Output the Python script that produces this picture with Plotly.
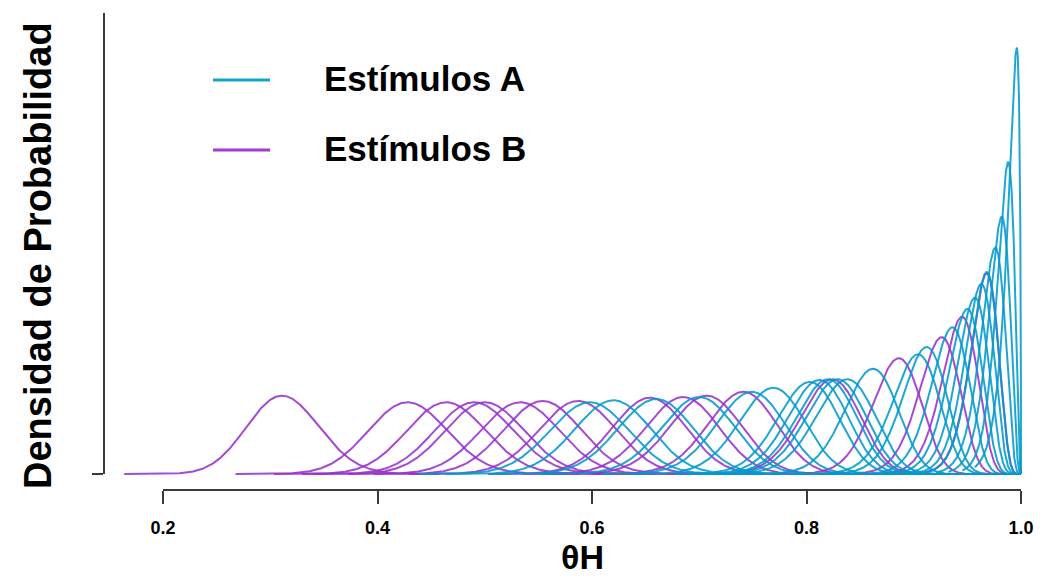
import math
import numpy as np
import plotly.graph_objects as go

# ---- data: mode (theta H) and peak density of each curve ----
modes_A = [0.598, 0.620, 0.660, 0.700, 0.749, 0.769, 0.803, 0.812, 0.820, 0.829, 0.838,
           0.862, 0.904, 0.912, 0.936, 0.950, 0.957, 0.963, 0.968, 0.976, 0.982, 0.988, 0.996]
peaks_A = [10.9, 11.2, 11.4, 11.7, 12.5, 13.1, 14.0, 14.3, 14.4, 14.4, 14.4,
           16.0, 18.2, 19.3, 22.3, 25.1, 26.8, 28.9, 30.7, 34.4, 39.1, 47.4, 64.8]

modes_B = [0.311, 0.428, 0.464, 0.490, 0.500, 0.533, 0.554, 0.587, 0.654, 0.685, 0.707,
           0.741, 0.824, 0.886, 0.926, 0.945, 0.968]
peaks_B = [11.9, 10.9, 10.9, 10.9, 10.9, 10.9, 11.1, 11.1, 11.6, 11.7, 11.9,
           12.5, 14.4, 17.6, 20.8, 23.9, 30.5]

x_ticks = [0.2, 0.4, 0.6, 0.8, 1.0]
x_tick_labels = ["0.2", "0.4", "0.6", "0.8", "1.0"]
series_names = ["Estímulos A", "Estímulos B"]
y_label = "Densidad de Probabilidad"
x_label = "θH"

COL_A = "rgba(0,154,205,0.88)"
COL_B = "rgba(153,50,204,0.88)"
AXIS_COL = "#3a3a3a"
FONT = "Liberation Sans, Arial, sans-serif"


def beta_params(m, h):
    """Beta(a, b) whose mode is m and whose density at the mode equals h."""
    def peak(k):
        a = 1 + m * (k - 2)
        b = 1 + (1 - m) * (k - 2)
        lnB = math.lgamma(a) + math.lgamma(b) - math.lgamma(a + b)
        return math.exp((a - 1) * math.log(m) + (b - 1) * math.log(1 - m) - lnB)
    lo, hi = 2.0001, 1e5
    for _ in range(200):
        mid = math.sqrt(lo * hi)
        if peak(mid) < h:
            lo = mid
        else:
            hi = mid
    k = math.sqrt(lo * hi)
    return 1 + m * (k - 2), 1 + (1 - m) * (k - 2)


def curve(m, h):
    a, b = beta_params(m, h)
    sd = math.sqrt(a * b / ((a + b) ** 2 * (a + b + 1)))
    x0 = max(1e-6, m - 4.4 * sd)
    x1 = min(1 - 1e-9, m + 4.4 * sd)
    x = np.linspace(x0, x1, 500)
    if x1 >= 1 - 1e-6:
        x = np.append(x, 1.0)
    lnB = math.lgamma(a) + math.lgamma(b) - math.lgamma(a + b)
    xc = np.clip(x, 1e-12, 1 - 1e-12)
    y = np.exp((a - 1) * np.log(xc) + (b - 1) * np.log(1 - xc) - lnB)
    y[x >= 1.0] = 0.0
    return x, y


fig = go.Figure()
for m, h in zip(modes_B, peaks_B):
    x, y = curve(m, h)
    fig.add_trace(go.Scatter(x=x, y=y, mode="lines", line=dict(color=COL_B, width=2),
                             showlegend=False, hoverinfo="skip"))
for m, h in zip(modes_A, peaks_A):
    x, y = curve(m, h)
    fig.add_trace(go.Scatter(x=x, y=y, mode="lines", line=dict(color=COL_A, width=2),
                             showlegend=False, hoverinfo="skip"))

# ---- layout geometry (pixels) ----
W, H = 1043, 578
L, R, T, B = 104, 1035, 13, 490          # plot area edges
PX_X0, PX_X1 = 163, 1021                 # pixels of x = 0.2 and x = 1.0
PX_Y0 = 474                              # pixel of density 0
DENS_PER_PX = 0.152

ppu = (PX_X1 - PX_X0) / (x_ticks[-1] - x_ticks[0])
x_range = [x_ticks[0] - (PX_X0 - L) / ppu, x_ticks[-1] + (R - PX_X1) / ppu]
y_range = [-(B - PX_Y0) * DENS_PER_PX, (PX_Y0 - T) * DENS_PER_PX]


def px_x(p):
    return (p - L) / (R - L)


def px_y(p):
    return (B - p) / (B - T)


shapes = [
    dict(type="line", xref="x", yref="paper", x0=x_ticks[0], x1=x_ticks[-1], y0=0, y1=0,
         line=dict(color=AXIS_COL, width=2)),
    dict(type="line", xref="paper", yref="y", x0=0, x1=0, y0=0, y1=y_range[1],
         line=dict(color=AXIS_COL, width=2)),
    dict(type="line", xref="paper", yref="paper", x0=px_x(213), x1=px_x(270),
         y0=px_y(80), y1=px_y(80), line=dict(color="rgb(20,160,210)", width=3)),
    dict(type="line", xref="paper", yref="paper", x0=px_x(213), x1=px_x(270),
         y0=px_y(150), y1=px_y(150), line=dict(color="rgb(160,60,210)", width=3)),
]

annotations = [
    dict(text=series_names[0], xref="paper", yref="paper", x=px_x(322), y=px_y(78),
         xanchor="left", yanchor="middle", showarrow=False,
         font=dict(family=FONT, size=35, color="black", weight="bold")),
    dict(text=series_names[1], xref="paper", yref="paper", x=px_x(322), y=px_y(148),
         xanchor="left", yanchor="middle", showarrow=False,
         font=dict(family=FONT, size=35, color="black", weight="bold")),
    dict(text=y_label, xref="paper", yref="paper", x=px_x(38), y=px_y(256),
         xanchor="center", yanchor="middle", textangle=-90, showarrow=False,
         font=dict(family=FONT, size=38, color="black", weight="bold")),
    dict(text=x_label, xref="paper", yref="paper", x=px_x(582), y=px_y(557),
         xanchor="center", yanchor="middle", showarrow=False,
         font=dict(family=FONT, size=34, color="black", weight="bold")),
]

fig.update_layout(
    width=W, height=H,
    margin=dict(l=L, r=W - R, t=T, b=H - B, pad=0),
    plot_bgcolor="white", paper_bgcolor="white",
    showlegend=False,
    shapes=shapes, annotations=annotations,
    xaxis=dict(range=x_range, showgrid=False, zeroline=False, showline=False,
               tickmode="array", tickvals=x_ticks, ticktext=x_tick_labels,
               ticks="outside", ticklen=13, tickwidth=2, tickcolor=AXIS_COL,
               ticklabelstandoff=8,
               tickfont=dict(family=FONT, size=18, color="black", weight="bold")),
    yaxis=dict(range=y_range, showgrid=False, zeroline=False, showline=False,
               tickmode="array", tickvals=[0], ticks="outside", ticklen=11,
               tickwidth=2, tickcolor=AXIS_COL, showticklabels=False),
)

fig.write_html("out.html")
